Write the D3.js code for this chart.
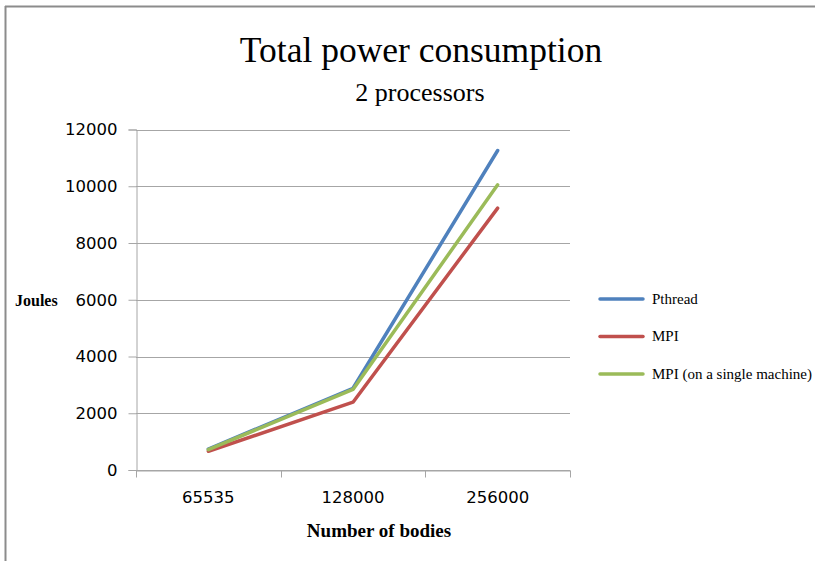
<!DOCTYPE html>
<html>
<head>
<meta charset="utf-8">
<script src="https://cdn.jsdelivr.net/npm/d3@7"></script>
<style>
  html, body { margin: 0; padding: 0; background: #fff; }
  svg { display: block; }
</style>
</head>
<body>
<svg id="chart" width="815" height="561"></svg>
<script>
// Bodies simulated (categories) and energy used per implementation, in joules
const categories = ["65535", "128000", "256000"];
const pthread = [740, 2880, 11260];
const mpi = [660, 2390, 9230];
const mpiSingle = [720, 2840, 10050];
const yTicks = [0, 2000, 4000, 6000, 8000, 10000, 12000];
const seriesNames = ["Pthread", "MPI", "MPI (on a single machine)"];
const seriesColors = ["#4F81BD", "#C0504D", "#9BBB59"];

const series = [
  { name: seriesNames[0], values: pthread, color: seriesColors[0] },
  { name: seriesNames[1], values: mpi, color: seriesColors[1] },
  { name: seriesNames[2], values: mpiSingle, color: seriesColors[2] }
];

const svg = d3.select("#chart");
const plot = { left: 136, right: 570, top: 129.5, bottom: 470 };
const sans = "'DejaVu Sans', sans-serif";
const serif = "'Liberation Serif', serif";

// Frame lines along the top and left edges
svg.append("line").attr("x1", 5).attr("x2", 815).attr("y1", 6.5).attr("y2", 6.5)
  .attr("stroke", "#8c8c8c").attr("stroke-width", 2);
svg.append("line").attr("x1", 5.5).attr("x2", 5.5).attr("y1", 6).attr("y2", 561)
  .attr("stroke", "#8c8c8c").attr("stroke-width", 2);

const x = d3.scaleBand().domain(categories).range([plot.left, plot.right]);
const y = d3.scaleLinear().domain([0, 12000]).range([plot.bottom, plot.top]);

// Horizontal gridlines
svg.append("g").selectAll("line").data(yTicks).join("line")
  .attr("x1", plot.left).attr("x2", plot.right)
  .attr("y1", d => Math.round(y(d)) + 0.5).attr("y2", d => Math.round(y(d)) + 0.5)
  .attr("stroke", "#a6a6a6").attr("stroke-width", 1);

// Y axis
const yAxis = svg.append("g").attr("transform", `translate(${plot.left + 0.5},0)`)
  .call(d3.axisLeft(y).tickValues(yTicks).tickSize(8).tickPadding(11).tickFormat(d3.format("d")));
yAxis.select(".domain").attr("stroke", "#a6a6a6");
yAxis.selectAll(".tick line").attr("stroke", "#a6a6a6");
yAxis.selectAll(".tick text")
  .attr("font-family", sans).attr("font-size", 16.5).attr("fill", "#000");

// X axis with tick marks at band boundaries
const xAxis = svg.append("g").attr("transform", `translate(0,${Math.round(y(0)) + 0.5})`)
  .call(d3.axisBottom(x).tickSize(0).tickPadding(21));
xAxis.select(".domain").attr("stroke", "#a6a6a6");
xAxis.selectAll(".tick text")
  .attr("font-family", sans).attr("font-size", 16.5).attr("fill", "#000");
const bounds = categories.map(c => x(c)).concat([x(categories[categories.length - 1]) + x.bandwidth()]);
xAxis.selectAll(".bound").data(bounds).join("line").attr("class", "bound")
  .attr("x1", d => Math.round(d) + 0.5).attr("x2", d => Math.round(d) + 0.5)
  .attr("y1", 0).attr("y2", 7).attr("stroke", "#a6a6a6");

// Series lines
const line = d3.line()
  .x((d, i) => x(categories[i]) + x.bandwidth() / 2)
  .y(d => y(d));
svg.append("g").selectAll("path").data(series).join("path")
  .attr("d", d => line(d.values))
  .attr("fill", "none").attr("stroke", d => d.color)
  .attr("stroke-width", 3.5).attr("stroke-linecap", "round").attr("stroke-linejoin", "round");

// Titles
svg.append("text").attr("x", 421).attr("y", 62).attr("text-anchor", "middle")
  .attr("font-family", serif).attr("font-size", 35.5)
  .text("Total power consumption");
svg.append("text").attr("x", 420).attr("y", 101).attr("text-anchor", "middle")
  .attr("font-family", serif).attr("font-size", 26)
  .text("2 processors");

// Axis titles
svg.append("text").attr("x", 15).attr("y", 306)
  .attr("font-family", serif).attr("font-size", 16).attr("font-weight", "bold")
  .text("Joules");
svg.append("text").attr("x", 379).attr("y", 537).attr("text-anchor", "middle")
  .attr("font-family", serif).attr("font-size", 19).attr("font-weight", "bold")
  .text("Number of bodies");

// Legend
const legend = svg.append("g").selectAll("g").data(series).join("g")
  .attr("transform", (d, i) => `translate(600,${299 + i * 37.5})`);
legend.append("line").attr("x1", 0).attr("x2", 43).attr("y1", 0).attr("y2", 0)
  .attr("stroke", d => d.color).attr("stroke-width", 3.5).attr("stroke-linecap", "round");
legend.append("text").attr("x", 52).attr("y", 4.5)
  .attr("font-family", serif).attr("font-size", 15)
  .text(d => d.name);
</script>
</body>
</html>
